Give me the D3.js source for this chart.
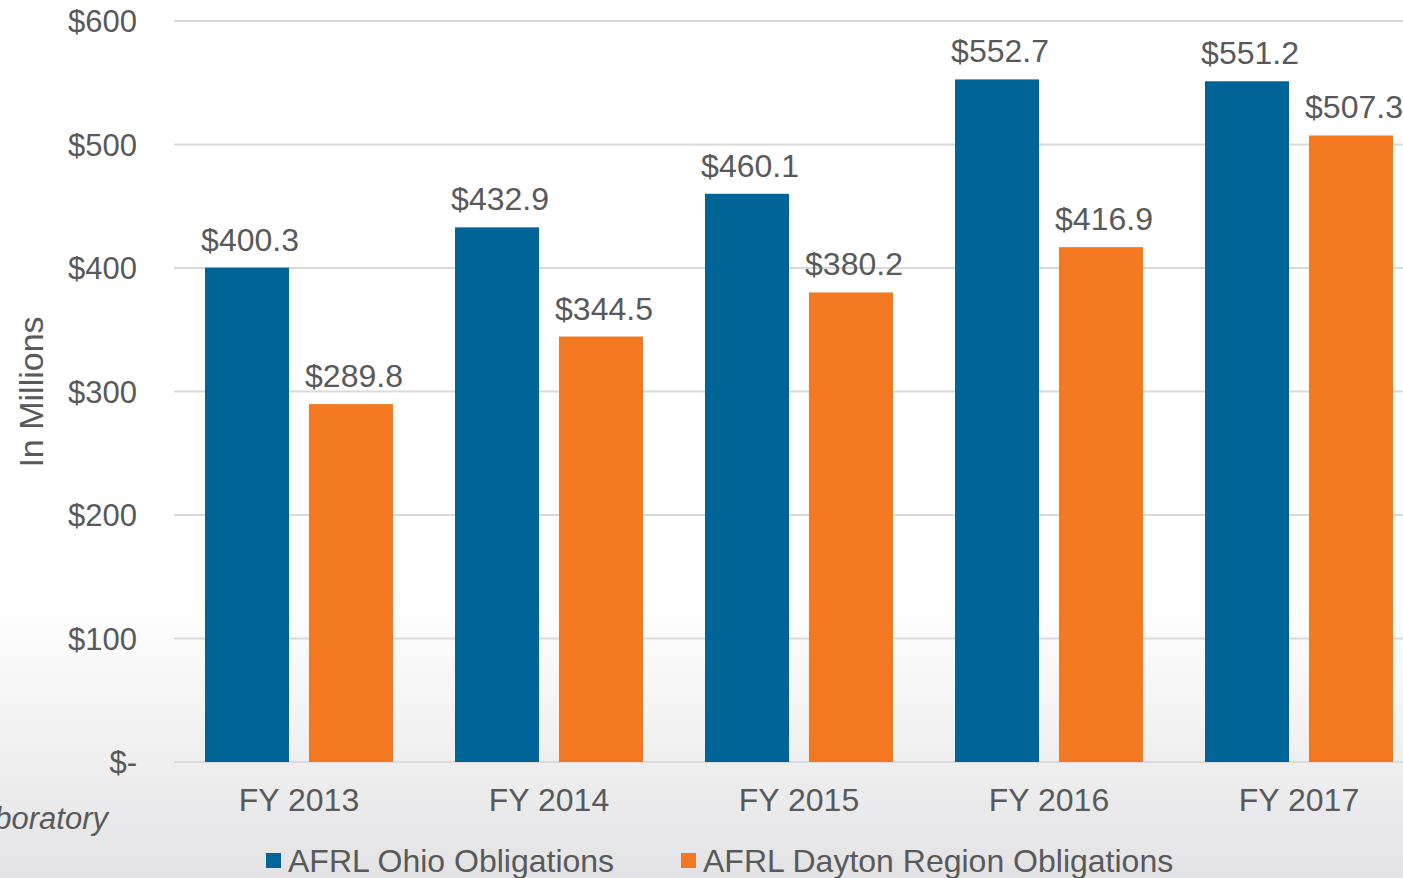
<!DOCTYPE html>
<html>
<head>
<meta charset="utf-8">
<script src="https://cdn.jsdelivr.net/npm/d3@7"></script>
<style>
  html, body { margin: 0; padding: 0; overflow: hidden; }
  svg { display: block; font-family: "Liberation Sans", Arial, sans-serif; }
</style>
</head>
<body>
<div id="chart"></div>
<script>
const years = ["FY 2013", "FY 2014", "FY 2015", "FY 2016", "FY 2017"];
const ohioValues = [400.3, 432.9, 460.1, 552.7, 551.2];
const daytonValues = [289.8, 344.5, 380.2, 416.9, 507.3];
const seriesNames = ["AFRL Ohio Obligations", "AFRL Dayton Region Obligations"];
const yTicks = [0, 100, 200, 300, 400, 500, 600];

const width = 1403, height = 878;
const colors = ["#006496", "#f47722"];
const textColor = "#595959";

const svg = d3.select("#chart").append("svg")
    .attr("width", width)
    .attr("height", height);

// background fades to grey towards the bottom
const defs = svg.append("defs");
const grad = defs.append("linearGradient")
    .attr("id", "bg")
    .attr("x1", 0).attr("y1", 0).attr("x2", 0).attr("y2", 1);
grad.append("stop").attr("offset", "0%").attr("stop-color", "#ffffff");
grad.append("stop").attr("offset", "68%").attr("stop-color", "#ffffff");
grad.append("stop").attr("offset", "100%").attr("stop-color", "#e3e3e5");
svg.append("rect")
    .attr("width", width).attr("height", height)
    .attr("fill", "url(#bg)");

const x0 = d3.scaleBand()
    .domain(years)
    .range([174, 1424])
    .paddingInner(0.248)
    .paddingOuter(0.124);
const x1 = d3.scaleBand()
    .domain([0, 1])
    .range([0, x0.bandwidth()])
    .paddingInner(0.192);
const y = d3.scaleLinear()
    .domain([0, 600])
    .range([762, 21]);

// gridlines
svg.append("g")
    .selectAll("line")
    .data(yTicks)
    .join("line")
    .attr("x1", 174).attr("x2", width)
    .attr("y1", d => y(d)).attr("y2", d => y(d))
    .attr("stroke", "#d9d9d9")
    .attr("stroke-width", 2);

// y tick labels
svg.append("g")
    .selectAll("text")
    .data(yTicks)
    .join("text")
    .attr("x", 137)
    .attr("y", d => y(d) + 11)
    .attr("text-anchor", "end")
    .attr("font-size", 31)
    .attr("fill", textColor)
    .text(d => d === 0 ? "$-" : "$" + d);

// y axis title
svg.append("text")
    .attr("transform", "translate(43,392) rotate(-90)")
    .attr("text-anchor", "middle")
    .attr("font-size", 34)
    .attr("fill", textColor)
    .text("In Millions");

const series = [ohioValues, daytonValues];
const groups = svg.append("g")
    .selectAll("g")
    .data(years)
    .join("g")
    .attr("transform", d => `translate(${x0(d)},0)`);

groups.selectAll("rect")
    .data((d, i) => series.map((s, k) => ({k, v: s[i]})))
    .join("rect")
    .attr("x", d => x1(d.k))
    .attr("width", x1.bandwidth())
    .attr("y", d => y(d.v))
    .attr("height", d => y(0) - y(d.v))
    .attr("fill", d => colors[d.k]);

groups.selectAll("text.val")
    .data((d, i) => series.map((s, k) => ({k, v: s[i]})))
    .join("text")
    .attr("class", "val")
    .attr("x", d => x1(d.k) + x1.bandwidth() / 2 + 3)
    .attr("y", d => y(d.v) - 17)
    .attr("text-anchor", "middle")
    .attr("font-size", 32)
    .attr("fill", textColor)
    .text(d => "$" + d.v.toFixed(1));

// x labels
svg.append("g")
    .selectAll("text")
    .data(years)
    .join("text")
    .attr("x", d => x0(d) + x0.bandwidth() / 2)
    .attr("y", 811)
    .attr("text-anchor", "middle")
    .attr("font-size", 32)
    .attr("fill", textColor)
    .text(d => d);

// clipped text from the slide behind
svg.append("text")
    .attr("x", 108)
    .attr("y", 829)
    .attr("text-anchor", "end")
    .attr("font-size", 31)
    .attr("font-style", "italic")
    .attr("fill", textColor)
    .text("Laboratory");

// legend
const legendX = [266, 681];
const legend = svg.append("g")
    .selectAll("g")
    .data(seriesNames)
    .join("g")
    .attr("transform", (d, i) => `translate(${legendX[i]},0)`);
legend.append("rect")
    .attr("x", 0).attr("y", 853)
    .attr("width", 15).attr("height", 15)
    .attr("fill", (d, i) => colors[i]);
legend.append("text")
    .attr("x", 22)
    .attr("y", 872)
    .attr("font-size", 32)
    .attr("fill", textColor)
    .text(d => d);
</script>
</body>
</html>
